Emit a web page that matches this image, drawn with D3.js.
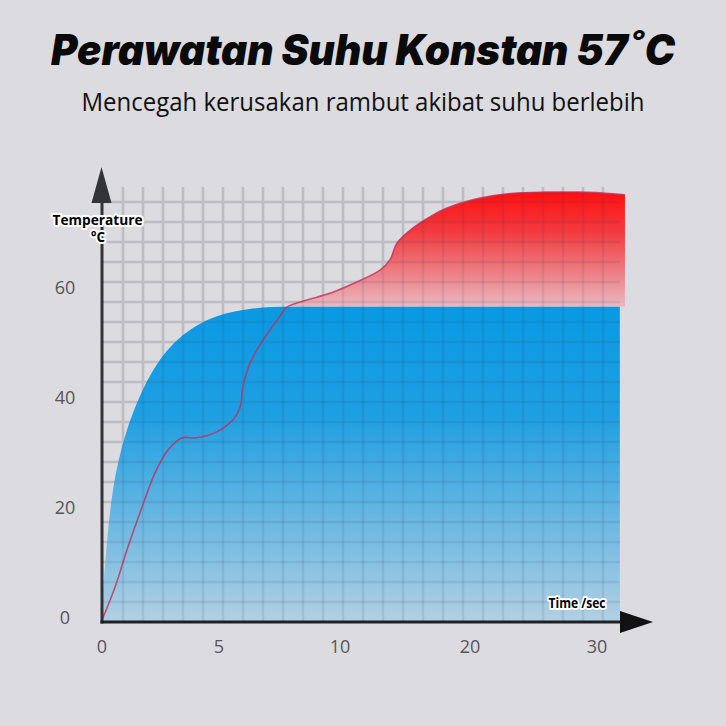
<!DOCTYPE html>
<html><head><meta charset="utf-8">
<script src="https://cdn.jsdelivr.net/npm/d3@7"></script>
<style>html,body{margin:0;padding:0;background:#dcdbe0;}svg{display:block;}</style>
</head><body>
<svg id="c" width="726" height="726"></svg>
<script>
// ---- data ----
const xTickValues = [0, 5, 10, 20, 30];
const xTickLabels = ["0", "5", "10", "20", "30"];
const yTickValues = [0, 20, 40, 60];
const yTickLabels = ["0", "20", "40", "60"];
const plateau = 57;
// blue: constant-temperature device
const blueTime = [0, 0.02, 0.17, 0.30, 0.47, 0.77, 1.20, 1.84, 2.35, 3.03, 3.89, 4.91, 6.28, 7.5, 9, 31.8];
const blueTemp = [0, 4.0, 12.2, 18.2, 24.2, 30.4, 36.6, 42.9, 46.7, 50.4, 53.3, 55.5, 56.7, 57, 57, 57];
// red: ordinary device
const redTime = [0, 0.56, 1.11, 1.71, 2.26, 2.82, 3.42, 3.97, 4.53, 4.91, 5.58, 5.87, 5.99, 6.28, 6.82, 7.40, 7.81, 8.35, 9.05, 9.71, 10.77, 13.08, 13.85, 14.38, 15.62, 16.92, 18.23, 20.79, 23.39, 26.06, 28.66, 31.26, 32.2];
const redTemp = [0, 6.0, 13.3, 20.5, 26.7, 30.9, 33.1, 33.1, 33.6, 34.2, 36.4, 38.7, 42.4, 46.7, 50.9, 54.5, 56.9, 57.8, 58.7, 59.6, 60.9, 63.6, 65.5, 68.5, 71.3, 73.3, 74.9, 76.7, 77.6, 77.8, 77.8, 77.5, 77.3];

const svg = d3.select("#c");
const x = d3.scaleLinear().domain(xTickValues).range([102, 219, 340, 470, 597]);
const y = d3.scaleLinear().domain([0, 60]).range([620, 290]);
const curve = d3.curveCatmullRom.alpha(0.5);

const defs = svg.append("defs");
const gb = defs.append("linearGradient").attr("id", "gb").attr("x1", 0).attr("x2", 0)
  .attr("gradientUnits", "userSpaceOnUse").attr("y1", y(57)).attr("y2", y(0));
gb.append("stop").attr("offset", 0).attr("stop-color", "#0a99e3");
gb.append("stop").attr("offset", 0.35).attr("stop-color", "#1f9fe2");
gb.append("stop").attr("offset", 1).attr("stop-color", "#b1cfe2");
const gr = defs.append("linearGradient").attr("id", "gr").attr("x1", 0).attr("x2", 0)
  .attr("gradientUnits", "userSpaceOnUse").attr("y1", y(78)).attr("y2", y(57));
gr.append("stop").attr("offset", 0).attr("stop-color", "#ff0e0e");
gr.append("stop").attr("offset", 0.35).attr("stop-color", "#f23a3e");
gr.append("stop").attr("offset", 1).attr("stop-color", "#e9b8bf");

const blue = blueTime.map((t, i) => [t, blueTemp[i]]);
const red = redTime.map((t, i) => [t, redTemp[i]]);
const redAbove = red.filter(d => d[1] >= plateau - 0.2);
const blueArea = d3.area().x(d => x(d[0])).y0(y(0) + 1).y1(d => y(d[1])).curve(d3.curveBasis);
const redArea = d3.area().x(d => x(d[0])).y0(y(plateau)).y1(d => y(Math.max(d[1], plateau))).curve(curve);

const clip = defs.append("clipPath").attr("id", "areas");
clip.append("path").datum(blue).attr("d", blueArea);
clip.append("path").datum(redAbove).attr("d", redArea);

// grid
const gridX0 = 103, gridX1 = 620, gridYTop = 187, axisY = 622;
function drawGrid(parent, stroke, w) {
  const g = parent.append("g").attr("stroke", stroke).attr("stroke-width", w);
  for (let gx = gridX0 + 20; gx <= 605; gx += 20)
    g.append("line").attr("x1", gx).attr("x2", gx).attr("y1", gridYTop).attr("y2", axisY);
  for (let gy = axisY - 20; gy >= 200; gy -= 20)
    g.append("line").attr("x1", gridX0).attr("x2", gridX1).attr("y1", gy).attr("y2", gy);
}
drawGrid(svg, "#bdbcc1", 2.6);

svg.append("path").datum(blue).attr("fill", "url(#gb)").attr("d", blueArea);
svg.append("path").datum(redAbove).attr("fill", "url(#gr)").attr("d", redArea);

drawGrid(svg.append("g").attr("clip-path", "url(#areas)"), "rgba(40,60,100,0.10)", 2.4);

svg.append("path").datum(red)
  .attr("fill", "none").attr("stroke", "#c0305a").attr("stroke-opacity", 0.8).attr("stroke-width", 1.6)
  .attr("d", d3.line().x(d => x(d[0])).y(d => y(d[1])).curve(curve));

// axes
svg.append("line").attr("x1", 102).attr("x2", 102).attr("y1", 195).attr("y2", axisY + 1.5)
  .attr("stroke", "#333438").attr("stroke-width", 3);
svg.append("path").attr("d", "M101.5,167 L111.5,203 L91.5,203 Z").attr("fill", "#333438");
svg.append("line").attr("x1", 100.5).attr("x2", 625).attr("y1", axisY).attr("y2", axisY)
  .attr("stroke", "#1f2024").attr("stroke-width", 3);
svg.append("path").attr("d", "M653,622 L620,611 L620,633 Z").attr("fill", "#111214");

// ticks
const tickFont = "'Open Sans', 'Noto Sans', sans-serif";
svg.append("g").selectAll("text").data(xTickValues).join("text")
  .attr("x", d => x(d)).attr("y", 653).attr("text-anchor", "middle")
  .attr("font-family", tickFont).attr("font-size", 18).attr("fill", "#55565a")
  .text((d, i) => xTickLabels[i]);
svg.append("g").selectAll("text").data(yTickValues).join("text")
  .attr("x", 65).attr("y", d => y(d) + 3.5).attr("text-anchor", "middle")
  .attr("font-family", tickFont).attr("font-size", 18).attr("fill", "#55565a")
  .text((d, i) => yTickLabels[i]);

// halo labels
function halo(txt, xx, yy, size, len) {
  const t = svg.append("text").attr("x", xx).attr("y", yy).attr("text-anchor", "middle")
    .attr("font-family", "'Open Sans', 'Noto Sans', sans-serif").attr("font-weight", 700)
    .attr("font-size", size).attr("fill", "#000")
    .attr("stroke", "#fff").attr("stroke-width", 4).attr("stroke-linejoin", "round")
    .attr("paint-order", "stroke").text(txt);
  if (len) t.attr("textLength", len).attr("lengthAdjust", "spacingAndGlyphs");
}
halo("Temperature", 97.5, 225, 13.5, 90);
halo("°C", 98, 242, 13.5);
halo("Time /sec", 577, 608, 13.5, 57);

// titles
svg.append("text").attr("x", 363).attr("y", 65).attr("text-anchor", "middle")
  .attr("font-family", "Inter, 'Noto Sans', sans-serif").attr("font-weight", 900).attr("font-style", "italic")
  .attr("font-size", 42).attr("fill", "#0a0a0a")
  .attr("textLength", 624).attr("lengthAdjust", "spacingAndGlyphs")
  .text("Perawatan Suhu Konstan 57˚C");
svg.append("text").attr("x", 363).attr("y", 111).attr("text-anchor", "middle")
  .attr("font-family", "'Open Sans', 'Noto Sans', sans-serif").attr("font-weight", 400)
  .attr("font-size", 25).attr("fill", "#111")
  .attr("textLength", 563).attr("lengthAdjust", "spacingAndGlyphs")
  .text("Mencegah kerusakan rambut akibat suhu berlebih");
</script>
</body></html>
